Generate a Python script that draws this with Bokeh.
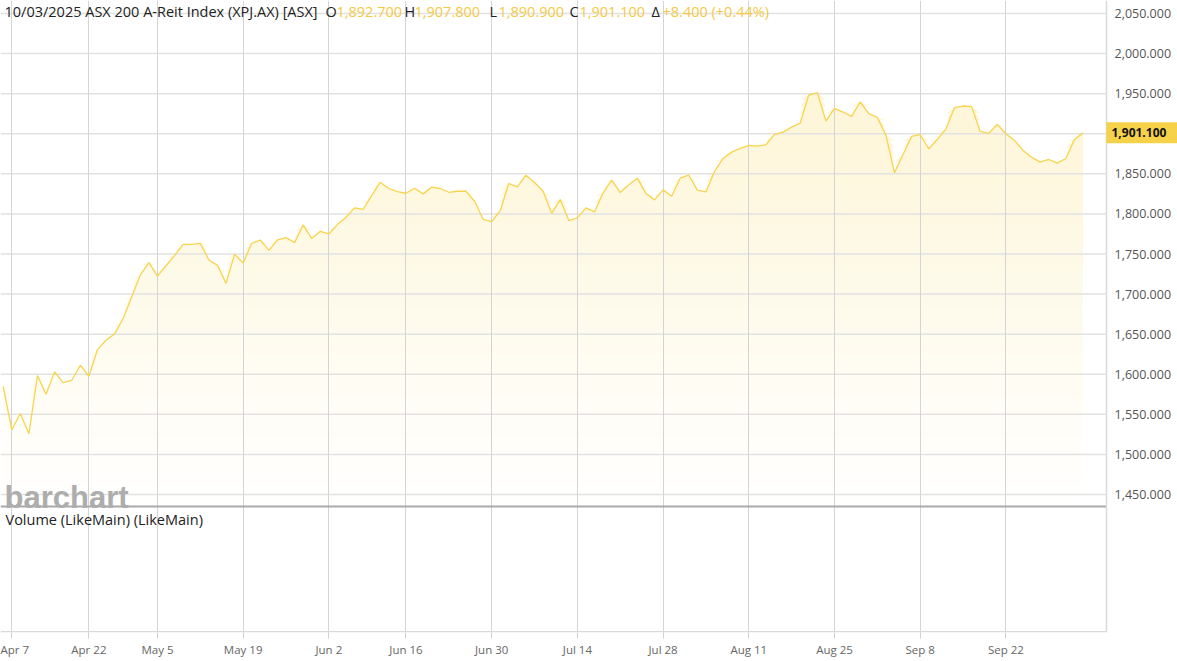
import numpy as np
import pandas as pd
from bokeh.plotting import figure
from bokeh.models import Range1d, FixedTicker, Label
from bokeh.core.properties import value
from bokeh.embed import file_html
from bokeh.resources import INLINE

# ---------------- data ----------------
close = [
    1585.0, 1530.8, 1550.8, 1525.8, 1598.3, 1575.0, 1603.0, 1589.6, 1592.5, 1611.3,
    1597.5, 1630.8, 1642.5, 1650.4, 1669.6, 1696.7, 1723.8, 1739.2, 1722.5, 1735.4,
    1748.3, 1762.1, 1762.0, 1763.3, 1742.5, 1735.8, 1713.3, 1749.6, 1738.8, 1763.3,
    1767.5, 1754.6, 1767.5, 1770.4, 1764.2, 1786.3, 1769.2, 1778.3, 1775.0, 1786.7,
    1795.8, 1807.5, 1805.8, 1822.9, 1839.6, 1831.7, 1827.9, 1825.8, 1832.1, 1825.0,
    1833.3, 1831.7, 1827.0, 1828.3, 1828.3, 1815.8, 1793.3, 1790.4, 1804.2, 1837.9,
    1833.8, 1848.3, 1839.2, 1828.3, 1800.8, 1817.9, 1791.7, 1795.0, 1807.5, 1802.5,
    1826.3, 1842.1, 1826.7, 1836.3, 1844.6, 1825.4, 1817.5, 1830.0, 1822.1, 1844.6,
    1848.3, 1829.6, 1827.5, 1852.9, 1869.2, 1877.1, 1881.7, 1885.4, 1884.6, 1886.3,
    1899.2, 1902.1, 1908.3, 1913.3, 1948.3, 1951.3, 1915.8, 1931.7, 1927.1, 1921.7,
    1939.6, 1925.0, 1920.4, 1898.3, 1851.3, 1874.2, 1896.7, 1898.8, 1881.3, 1892.9,
    1905.8, 1932.5, 1934.6, 1933.8, 1902.9, 1900.4, 1911.7, 1900.0, 1891.7, 1879.2,
    1870.8, 1864.6, 1867.9, 1863.3, 1869.2, 1892.7, 1901.1,
]
asx_holidays = ["2025-04-18", "2025-04-21", "2025-04-25", "2025-06-09"]
first_date = "2025-04-04"
last_date = "2025-10-03"

tick_dates = ["2025-04-07", "2025-04-22", "2025-05-05", "2025-05-19", "2025-06-02",
              "2025-06-16", "2025-06-30", "2025-07-14", "2025-07-28", "2025-08-11",
              "2025-08-25", "2025-09-08", "2025-09-22"]
tick_labels = ["Apr 7", "Apr 22", "May 5", "May 19", "Jun 2", "Jun 16", "Jun 30",
               "Jul 14", "Jul 28", "Aug 11", "Aug 25", "Sep 8", "Sep 22"]
y_ticks = [1450, 1500, 1550, 1600, 1650, 1700, 1750, 1800, 1850, 1900, 1950, 2000, 2050]
y_tick_labels = [f"{v:,.3f}" for v in y_ticks]

title_text = "10/03/2025 ASX 200 A-Reit Index (XPJ.AX) [ASX]"
ohlc_open, ohlc_high, ohlc_low, ohlc_close = 1892.7, 1907.8, 1890.9, 1901.1
change, change_pct = 8.4, 0.44

# ---------------- trading-day index ----------------
hol = set(pd.to_datetime(asx_holidays))
dates = [d for d in pd.bdate_range(first_date, last_date) if d not in hol]
assert len(dates) == len(close), (len(dates), len(close))
pos = {d.strftime("%Y-%m-%d"): i for i, d in enumerate(dates)}
idx = np.arange(len(close))
tick_idx = [pos[d] for d in tick_dates]

# ---------------- geometry (picture pixels) ----------------
W, H = 1177, 661
PX0, DX = 2.7, 8.57          # x of first trading day, pixels per trading day
CHART_R = 1106               # right edge of the plotting area
FRAME_B = 632                # bottom of the volume panel
PPU = 0.8017                 # pixels per index point
Y_TOP = 2050 + 13 / PPU
Y_BOT = Y_TOP - FRAME_B / PPU


def X(px):
    return (px - PX0) / DX


def Y(py):
    return Y_TOP - py / PPU


p = figure(frame_width=W, frame_height=FRAME_B,
           x_range=Range1d(X(0), X(W)), y_range=Range1d(Y_BOT, Y_TOP),
           y_axis_location=None, output_backend="svg", toolbar_location=None,
           min_border_left=0, min_border_top=0, min_border_right=0, min_border_bottom=0)
p.outline_line_color = None
p.background_fill_color = "white"
p.border_fill_color = "white"
p.ygrid.visible = False

# gradient area fill (opaque bands, drawn below the grid)
line_rgb = (249, 212, 74)
base = Y(506)
top = max(close)
N = 60
edges = np.linspace(base, top, N + 1)
step = edges[1] - edges[0]
for k in range(N):
    b = edges[k]
    a = 0.22 * ((b + step / 2) - base) / (top - base)
    col = "#%02x%02x%02x" % tuple(int(round(255 - a * (255 - c))) for c in line_rgb)
    p.varea(x=idx, y1=b, y2=np.maximum(np.array(close), b), fill_color=col, level="image")

# horizontal grid lines of the price panel
p.segment(x0=X(0), x1=X(CHART_R), y0=y_ticks, y1=y_ticks,
          line_color="#e2e2e2", line_width=1.5, level="underlay")

p.line(idx, close, line_color="#f8d44c", line_width=1.3)

# x axis & vertical grid
p.xaxis.ticker = FixedTicker(ticks=tick_idx)
p.xaxis.major_label_overrides = {i: lab for i, lab in zip(tick_idx, tick_labels)}
p.xaxis.major_tick_out = 6
p.xaxis.major_tick_in = 0
p.xaxis.minor_tick_out = 0
p.xaxis.minor_tick_in = 0
p.xaxis.major_tick_line_color = "#d0d0d0"
p.xaxis.axis_line_color = None
p.xaxis.major_label_standoff = 3
p.xaxis.major_label_text_font = "Open Sans"
p.xaxis.major_label_text_font_size = "11.5px"
p.xaxis.major_label_text_color = "#666666"
p.xgrid.ticker = FixedTicker(ticks=tick_idx)
p.xgrid.grid_line_color = "#d4d4d4"
p.xgrid.grid_line_width = 1

# price scale on the right
p.text(x=X(1114), y=y_ticks, text=y_tick_labels, text_font=value("Open Sans"),
       text_font_size="12.5px", text_color="#555555", text_baseline="middle",
       text_align="left")

# panel separator and chart borders
p.segment(x0=X(0), x1=X(CHART_R), y0=Y(506), y1=Y(506), line_color="#a9a9a9",
          line_width=2)
p.segment(x0=X(0), x1=X(CHART_R), y0=Y(631.3), y1=Y(631.3), line_color="#d9d9d9",
          line_width=1.5)
p.segment(x0=X(CHART_R), x1=X(CHART_R), y0=Y_BOT, y1=Y_TOP, line_color="#d9d9d9",
          line_width=1.5)

# last price tag
tag_half = 10.5 / PPU
p.quad(left=X(CHART_R), right=X(W), top=close[-1] + tag_half, bottom=close[-1] - tag_half,
       fill_color="#f6d24b", line_color=None, level="overlay")
p.text(x=X(1111), y=[close[-1]], text=[f"{close[-1]:,.3f}"], text_font=value("Open Sans"),
       text_font_style="bold", text_font_size="12px", text_color="#111111",
       text_baseline="middle", text_align="left", level="overlay")

# header
dark = "#222222"
yellow = "#f4c945"
hy = Y(11)
pieces = [
    (4, title_text, dark),
    (325, "O", dark), (336, f"{ohlc_open:,.3f}", yellow),
    (404, "H", dark), (414, f"{ohlc_high:,.3f}", yellow),
    (489, "L", dark), (498, f"{ohlc_low:,.3f}", yellow),
    (569, "C", dark), (579, f"{ohlc_close:,.3f}", yellow),
    (651, "\u0394", dark), (662, f"+{change:,.3f} (+{change_pct:.2f}%)", yellow),
]
for px, txt, colr in pieces:
    p.add_layout(Label(x=X(px), y=hy, text=txt, text_color=colr, text_font="Open Sans",
                       text_font_size="14.5px", text_baseline="middle", text_align="left"))

# watermark
p.add_layout(Label(x=X(4), y=Y(497), text="barchart", text_color="#adadad",
                   text_font="Liberation Sans", text_font_style="bold", text_font_size="31px",
                   text_baseline="alphabetic", text_align="left"))

# volume panel title
p.add_layout(Label(x=X(5), y=Y(519), text="Volume (LikeMain)  (LikeMain)",
                   text_color=dark, text_font="Open Sans", text_font_size="14.5px",
                   text_baseline="middle", text_align="left"))

open("out.html", "w").write(file_html(p, INLINE))
